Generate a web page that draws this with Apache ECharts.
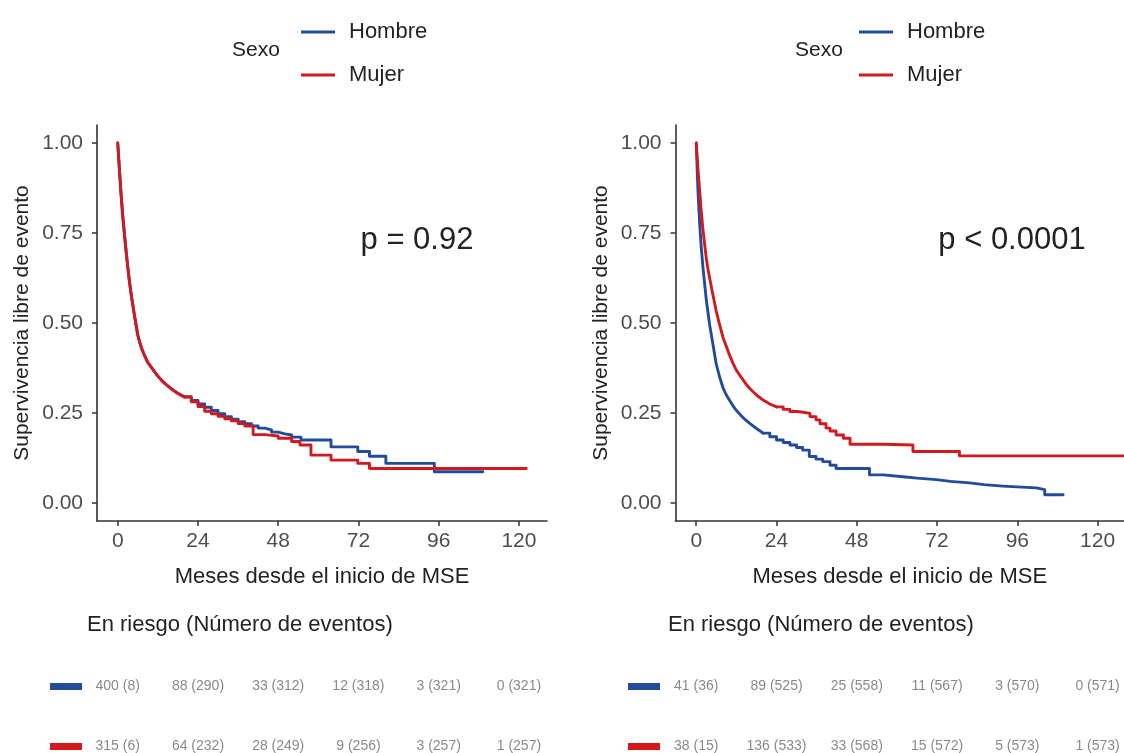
<!DOCTYPE html>
<html><head><meta charset="utf-8">
<script src="https://cdn.jsdelivr.net/npm/echarts@6/dist/echarts.min.js"></script>
<style>html,body{margin:0;padding:0;background:#fff}#c{width:1124px;height:753px}</style>
</head><body><div id="c"></div>
<script>
// ---- data ----
const timeTicks = [0, 24, 48, 72, 96, 120];
const survTicks = [0, 0.25, 0.5, 0.75, 1];
const groups = ['Hombre', 'Mujer'];

// early (steep, drawn as a continuous curve) and late (step) parts of each Kaplan-Meier curve
const leftHombreEarlyT = [0,0.5,1,1.5,2,2.5,3,3.5,4,5,6,7,8,9,10,11,12,13,14,15,16,17,18,19,20];
const leftHombreEarlyS = [1,0.93,0.86,0.80,0.75,0.70,0.655,0.615,0.58,0.52,0.465,0.432,0.41,0.39,0.377,0.364,0.352,0.342,0.333,0.325,0.318,0.311,0.305,0.30,0.295];
const leftHombreLateT = [20,22,24,26,28,30,32,34,36,38,40,42,44,46,48,50,52,54.8,63.8,71.8,75.3,80.2,94.7,109.2];
const leftHombreLateS = [0.295,0.285,0.275,0.266,0.257,0.248,0.24,0.233,0.226,0.22,0.214,0.208,0.203,0.197,0.192,0.189,0.183,0.175,0.156,0.143,0.13,0.11,0.087,0.087];

const leftMujerEarlyT = [0,0.5,1,1.5,2,2.5,3,3.5,4,5,6,7,8,9,10,11,12,13,14,15,16,17,18,19,20];
const leftMujerEarlyS = [1,0.925,0.855,0.795,0.745,0.70,0.655,0.617,0.582,0.522,0.468,0.434,0.41,0.391,0.378,0.365,0.353,0.342,0.333,0.325,0.317,0.31,0.304,0.299,0.294];
const leftMujerLateT = [20,22,24,26,28,30,32,34,36,38,40.5,44,48,52,54.5,57.8,63.8,71.8,75.3,122.2];
const leftMujerLateS = [0.294,0.281,0.268,0.255,0.248,0.241,0.234,0.228,0.221,0.214,0.19,0.186,0.18,0.171,0.161,0.133,0.119,0.11,0.096,0.096];

const rightHombreEarlyT = [0,0.5,1,1.5,2,2.5,3,3.5,4,5,6,7,8,9,10,11,12,13,14,15,16,18,20];
const rightHombreEarlyS = [1,0.87,0.78,0.71,0.655,0.61,0.565,0.53,0.495,0.44,0.385,0.35,0.32,0.30,0.285,0.27,0.257,0.247,0.237,0.229,0.221,0.207,0.194];
const rightHombreLateT = [20,22,24,26,28,30,31.8,33.8,35.8,37.8,40,41.8,51.8,56,61.8,66,71.8,76,81.7,86,91.7,101.7,104.2,109.7];
const rightHombreLateS = [0.194,0.184,0.175,0.168,0.161,0.154,0.147,0.129,0.122,0.115,0.105,0.096,0.078,0.073,0.069,0.065,0.06,0.056,0.051,0.047,0.042,0.037,0.023,0.023];

const rightMujerEarlyT = [0,0.5,1,1.5,2,2.5,3,3.5,4,5,6,7,8,9,10,11,12,13,14,15,16,18,20,22,24];
const rightMujerEarlyS = [1,0.93,0.87,0.81,0.76,0.72,0.68,0.65,0.625,0.578,0.532,0.495,0.46,0.435,0.41,0.388,0.369,0.355,0.342,0.329,0.318,0.30,0.286,0.275,0.267];
const rightMujerLateT = [24,26,28,30,32,34,35.8,37,38.8,40,41.8,44,46,56,64.8,78.7,127.9];
const rightMujerLateS = [0.267,0.26,0.254,0.252,0.249,0.24,0.231,0.22,0.208,0.20,0.189,0.18,0.163,0.161,0.143,0.131,0.131];

const riskTimes = [0, 24, 48, 72, 96, 120];
const leftRiskHombre = ['400 (8)','88 (290)','33 (312)','12 (318)','3 (321)','0 (321)'];
const leftRiskMujer = ['315 (6)','64 (232)','28 (249)','9 (256)','3 (257)','1 (257)'];
const rightRiskHombre = ['41 (36)','89 (525)','25 (558)','11 (567)','3 (570)','0 (571)'];
const rightRiskMujer = ['38 (15)','136 (533)','33 (568)','15 (572)','5 (573)','1 (573)'];

const pLeft = 'p = 0.92';
const pRight = 'p < 0.0001';

// ---- styling ----
const FONT = '"Liberation Sans", Arial, sans-serif';
const BLUE = '#234B9B';
const RED = '#D2191E';
const AXIS = '#333333';
const TICKTXT = '#4d4d4d';
const TXT = '#222222';

const zip = (t, s) => t.map((v, i) => [v, s[i]]);

function curveX(grid, max) {
  return {
    gridIndex: grid, type: 'value', min: -6.2, max: max,
    axisLine: {show: true, onZero: false, lineStyle: {color: AXIS, width: 1.6}},
    axisTick: {show: true, customValues: timeTicks, length: 5, lineStyle: {color: AXIS, width: 1.5}},
    axisLabel: {customValues: timeTicks, fontSize: 21, color: TICKTXT, margin: 10, fontFamily: FONT},
    splitLine: {show: false},
    name: 'Meses desde el inicio de MSE', nameLocation: 'middle', nameGap: 45,
    nameTextStyle: {fontSize: 22, color: TXT, fontFamily: FONT}
  };
}
function curveY(grid) {
  return {
    gridIndex: grid, type: 'value', min: -0.05, max: 1.05,
    axisLine: {show: true, onZero: false, lineStyle: {color: AXIS, width: 1.6}},
    axisTick: {show: true, customValues: survTicks, length: 5, lineStyle: {color: AXIS, width: 1.5}},
    axisLabel: {customValues: survTicks, fontSize: 21, color: TICKTXT, margin: 14, fontFamily: FONT,
      formatter: v => Number(v).toFixed(2)},
    splitLine: {show: false},
    name: 'Supervivencia libre de evento', nameLocation: 'middle', nameGap: 64, nameRotate: 90,
    nameTextStyle: {fontSize: 21, color: TXT, fontFamily: FONT}
  };
}
function riskX(grid, max) {
  return {gridIndex: grid, type: 'value', min: -6.2, max: max, show: false};
}
function riskY(grid) {
  return {gridIndex: grid, type: 'value', min: -0.3333, max: 1.1167, inverse: true, show: false};
}
function curve(name, data, xi, color, stepped) {
  return {
    type: 'line', name: name, xAxisIndex: xi, yAxisIndex: xi, data: data, step: stepped ? 'end' : false,
    smooth: false, showSymbol: false, symbol: 'none', color: color,
    lineStyle: {width: 2.9, color: color, join: 'round', cap: 'round'}, silent: true, z: 3
  };
}
function riskSeries(labels, row, xi) {
  return {
    type: 'scatter', xAxisIndex: xi, yAxisIndex: xi, symbolSize: 1, silent: true,
    itemStyle: {color: 'rgba(0,0,0,0)'},
    data: riskTimes.map((t, i) => ({value: [t, row], name: labels[i]})),
    label: {show: true, position: 'inside', formatter: p => p.name,
      fontSize: 14, color: '#6a6a6a', fontFamily: FONT}
  };
}
function legendAt(x) {
  return {
    left: x, top: 16, orient: 'vertical', icon: 'rect', itemWidth: 34, itemHeight: 3,
    itemGap: 21, data: groups, selectedMode: false,
    textStyle: {fontSize: 22, color: TXT, fontFamily: FONT, padding: [0, 0, 0, 9]}
  };
}
function txt(x, y, s, size, align) {
  return {type: 'text', x: x, y: y,
    style: {text: s, fontSize: size, fill: TXT, fontFamily: FONT, align: align || 'left', verticalAlign: 'middle'}};
}

const chart = echarts.init(document.getElementById('c'), null, {renderer: 'canvas'});
chart.setOption({
  animation: false,
  backgroundColor: '#fff',
  grid: [
    {left: 97, top: 125, width: 450, height: 396},
    {left: 675.5, top: 125, width: 448.5, height: 396},
    {left: 97, top: 666, width: 450, height: 87},
    {left: 675.5, top: 666, width: 448.5, height: 87}
  ],
  xAxis: [curveX(0, 128.4), curveX(1, 127.9), riskX(2, 128.4), riskX(3, 127.9)],
  yAxis: [curveY(0), curveY(1), riskY(2), riskY(3)],
  legend: [legendAt(296), legendAt(854)],
  series: [
    curve('Hombre', zip(leftHombreEarlyT, leftHombreEarlyS), 0, BLUE, false),
    curve('Hombre', zip(leftHombreLateT, leftHombreLateS), 0, BLUE, true),
    curve('Mujer', zip(leftMujerEarlyT, leftMujerEarlyS), 0, RED, false),
    curve('Mujer', zip(leftMujerLateT, leftMujerLateS), 0, RED, true),
    curve('Hombre', zip(rightHombreEarlyT, rightHombreEarlyS), 1, BLUE, false),
    curve('Hombre', zip(rightHombreLateT, rightHombreLateS), 1, BLUE, true),
    curve('Mujer', zip(rightMujerEarlyT, rightMujerEarlyS), 1, RED, false),
    curve('Mujer', zip(rightMujerLateT, rightMujerLateS), 1, RED, true),
    riskSeries(leftRiskHombre, 0, 2),
    riskSeries(leftRiskMujer, 1, 2),
    riskSeries(rightRiskHombre, 0, 3),
    riskSeries(rightRiskMujer, 1, 3)
  ],
  graphic: [
    txt(232, 50, 'Sexo', 21),
    txt(795, 50, 'Sexo', 21),
    txt(417, 240, pLeft, 31, 'center'),
    txt(1012, 240, pRight, 31, 'center'),
    txt(87, 625, 'En riesgo (Número de eventos)', 22),
    txt(668, 625, 'En riesgo (Número de eventos)', 22),
    {type: 'rect', shape: {x: 50, y: 683, width: 32, height: 7}, style: {fill: BLUE}},
    {type: 'rect', shape: {x: 50, y: 743, width: 32, height: 7}, style: {fill: RED}},
    {type: 'rect', shape: {x: 628, y: 683, width: 32, height: 7}, style: {fill: BLUE}},
    {type: 'rect', shape: {x: 628, y: 743, width: 32, height: 7}, style: {fill: RED}}
  ]
});
</script></body></html>
